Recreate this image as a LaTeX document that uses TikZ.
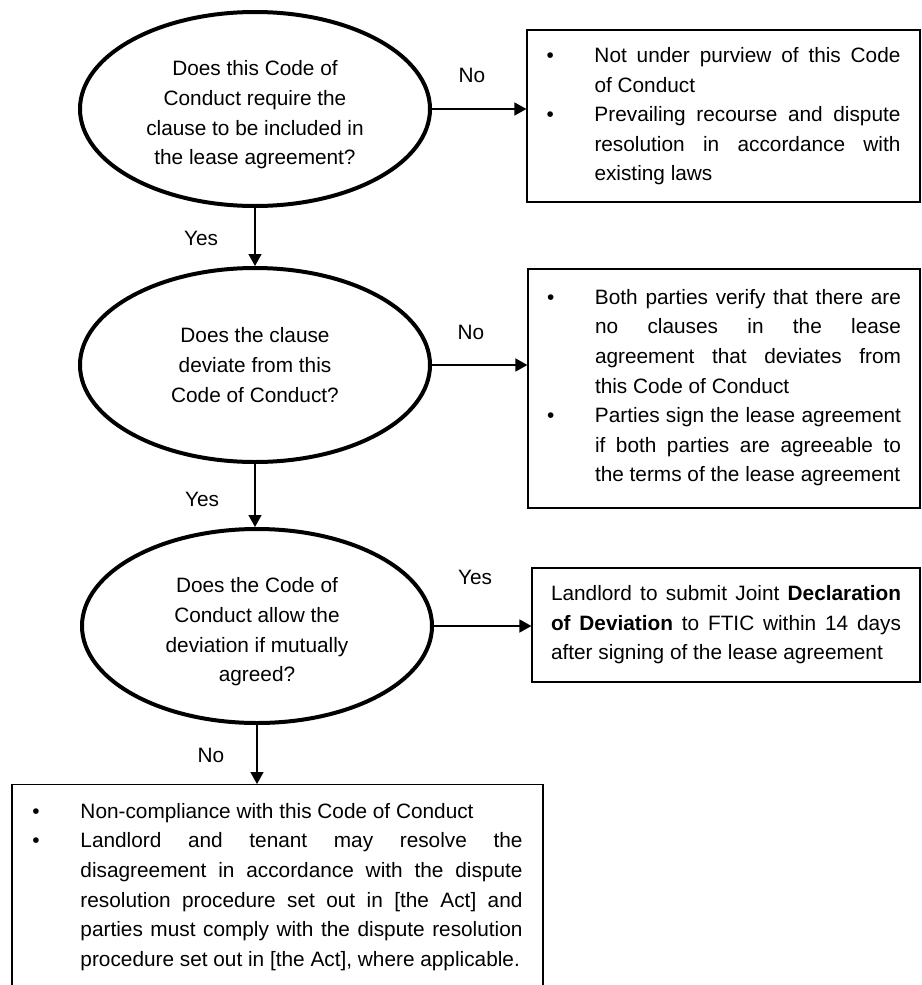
\documentclass[tikz,border=0pt]{standalone}
\usepackage{fontspec}
\setmainfont{Liberation Sans}
\usetikzlibrary{shapes.geometric,arrows.meta}

\tolerance=10000
\hyphenpenalty=10000
\newcommand{\bulpt}{\par\noindent\hangindent=24pt\hangafter=1\hbox to 24pt{\textbullet\hfil}}
\newcommand{\toppad}{\rule{0pt}{13.4pt}}

\begin{document}
\begin{tikzpicture}[x=0.5pt,y=-0.5pt,
        font=\fontsize{10.4}{14.8}\selectfont,
        question/.style={ellipse, draw, line width=2pt, minimum width=175pt, minimum height=97pt, inner sep=0pt, align=center},
        outcome/.style={rectangle, draw, line width=0.6pt, align=justify, inner ysep=0pt},
        flow/.style={line width=0.75pt, -{Triangle[length=6pt,width=6.5pt]}}]
        \useasboundingbox (0,0) rectangle (921,985);
        \clip (0,0) rectangle (921,985);

        \node[question] (q1) at (255,109) {\toppad Does this Code of\\ Conduct require the\\ clause to be included in\\ the lease agreement?};
        \node[question] (q2) at (255,365) {Does the clause\\ deviate from this\\ Code of Conduct?};
        \node[question] (q3) at (257,626) {\toppad Does the Code of\\ Conduct allow the\\ deviation if mutually\\ agreed?};

        \node[outcome, text width=177pt, inner xsep=9.75pt, minimum height=86pt] (out1) at (723.5,116)
            {\bulpt Not under purview of this Code\linebreak of Conduct
             \bulpt Prevailing recourse and dispute\linebreak resolution in accordance with\linebreak existing laws\par\kern7pt};
        \node[outcome, text width=177pt, inner xsep=9.5pt, minimum height=119.5pt] (out2) at (724,388.5)
            {\bulpt Both parties verify that there are\linebreak no clauses in the lease\linebreak agreement that deviates from\linebreak this Code of Conduct
             \bulpt Parties sign the lease agreement\linebreak if both parties are agreeable to\linebreak the terms of the lease agreement\par\kern8pt};
        \node[outcome, text width=175pt, inner xsep=9.5pt, minimum height=57pt] (out3) at (726,625)
            {Landlord to submit Joint \textbf{Declaration}\linebreak\textbf{of Deviation} to FTIC within 14 days\linebreak after signing of the lease agreement};
        \node[outcome, text width=245pt, inner xsep=10.25pt, inner ysep=2pt, anchor=north] (res) at (277.5,784)
            {\bulpt Non-compliance with this Code of Conduct
             \bulpt Landlord and tenant may resolve the\linebreak disagreement in accordance with the dispute\linebreak resolution procedure set out in [the Act] and\linebreak parties must comply with the dispute resolution\linebreak procedure set out in [the Act], where applicable.\par\kern20pt};

        \draw[flow] (q1.south) -- (q2.north);
        \draw[flow] (q2.south) -- (q2.south |- q3.north);
        \draw[flow] (q3.south) -- (q3.south |- res.north);
        \draw[flow] (q1.east) -- (q1.east -| out1.west);
        \draw[flow] (q2.east) -- (q2.east -| out2.west);
        \draw[flow] (q3.east) -- (q3.east -| out3.west);

        \node (no1) at (472,75) {No};
        \node (no2) at (471,332) {No};
        \node (yes3) at (475,577) {Yes};
        \node (yes1) at (201,238) {Yes};
        \node (yes2) at (202,499) {Yes};
        \node (no3) at (211,755) {No};
    \end{tikzpicture}
\end{document}
